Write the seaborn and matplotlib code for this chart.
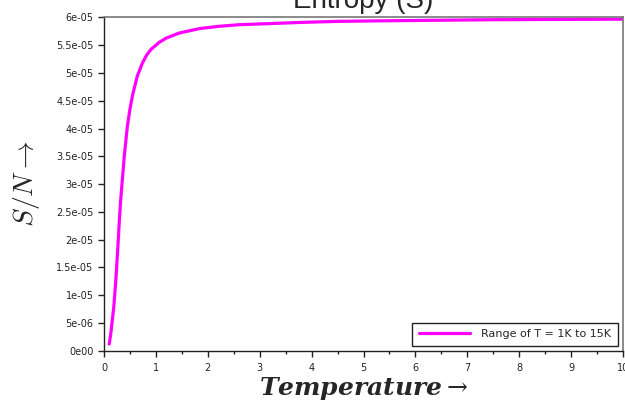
import matplotlib
matplotlib.use("Agg")
import matplotlib.pyplot as plt
from matplotlib.ticker import MultipleLocator
import seaborn as sns

# values
temperature = [0.10, 0.13, 0.16, 0.19, 0.23, 0.26, 0.29, 0.32, 0.36, 0.39, 0.45,
               0.50, 0.55, 0.64, 0.74, 0.82, 0.90, 1.06, 1.20, 1.45, 1.84,
               2.20, 2.60, 3.20, 3.75, 4.50, 5.36, 6.40, 7.50, 8.70, 10.0]
entropy = [0.12e-05, 0.30e-05, 0.55e-05, 0.80e-05, 1.30e-05, 1.75e-05, 2.25e-05,
           2.70e-05, 3.15e-05, 3.50e-05, 4.04e-05, 4.35e-05, 4.60e-05, 4.94e-05,
           5.18e-05, 5.32e-05, 5.42e-05, 5.55e-05, 5.63e-05, 5.72e-05, 5.80e-05,
           5.84e-05, 5.87e-05, 5.89e-05, 5.91e-05, 5.93e-05, 5.94e-05, 5.95e-05,
           5.96e-05, 5.965e-05, 5.97e-05]
series_label = "Range of T = 1K to 15K"

x_ticks = list(range(0, 11))
y_ticks = [i * 5e-06 for i in range(13)]
y_tick_labels = ["0e00", "5e-06", "1e-05", "1.5e-05", "2e-05", "2.5e-05", "3e-05",
                 "3.5e-05", "4e-05", "4.5e-05", "5e-05", "5.5e-05", "6e-05"]

sns.set_style("ticks")
plt.rcParams["font.family"] = ["DejaVu Sans"]
plt.rcParams["mathtext.fontset"] = "cm"

fig = plt.figure(figsize=(6.25, 4.01), dpi=100)
ax = fig.add_axes([0.1664, 0.1254, 0.8304, 0.831])

sns.lineplot(x=temperature, y=entropy, color="#ff00ff", linewidth=2.3,
             label=series_label, ax=ax)

ax.set_xlim(0, 10)
ax.set_ylim(0, 6e-05)
ax.set_xticks(x_ticks)
ax.set_xticklabels([str(t) for t in x_ticks])
ax.xaxis.set_minor_locator(MultipleLocator(0.5))
ax.set_yticks(y_ticks)
ax.set_yticklabels(y_tick_labels)
ax.tick_params(axis="both", which="major", labelsize=7, length=4, width=1,
               colors="#222222", direction="out")
ax.tick_params(axis="x", which="minor", length=2, width=1, color="#222222")
ax.tick_params(axis="x", pad=5)

for side in ["left", "bottom"]:
    ax.spines[side].set_color("#222222")
    ax.spines[side].set_linewidth(1)
for side in ["top", "right"]:
    ax.spines[side].set_visible(True)
    ax.spines[side].set_color("#777777")
    ax.spines[side].set_linewidth(1.2)

ax.set_xlabel(r"$\mathbfit{Temperature} \rightarrow$", fontsize=18, labelpad=1,
              math_fontfamily="dejavuserif")
ax.set_ylabel(r"$S/N \rightarrow$", fontsize=20, labelpad=10)
ax.set_title("Entropy (S)", fontsize=20, fontfamily="Liberation Sans", pad=7)

leg = ax.legend(loc="lower right", bbox_to_anchor=(0.990, 0.014), borderaxespad=0,
                fontsize=8, handlelength=4.6, fancybox=False, framealpha=1,
                borderpad=0.6, handletextpad=1)
leg.get_frame().set_edgecolor("#222222")
leg.get_frame().set_linewidth(1)

fig.savefig("out.png", dpi=100)
